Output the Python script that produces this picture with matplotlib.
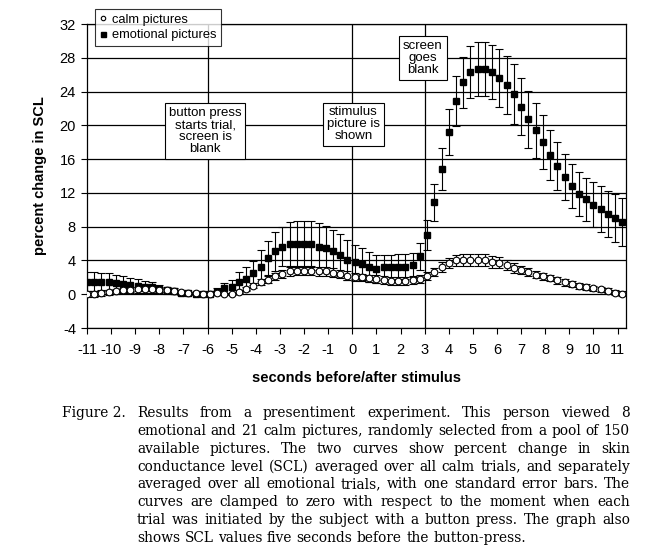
import matplotlib
matplotlib.use("Agg")
import matplotlib.pyplot as plt
from matplotlib.lines import Line2D

# time of each sample (seconds before/after stimulus)
seconds = [-11.0, -10.7, -10.4, -10.1, -9.8, -9.5, -9.2, -8.9, -8.6, -8.3,
           -8.0, -7.7, -7.4, -7.1, -6.8, -6.5, -6.2, -5.9, -5.6, -5.3,
           -5.0, -4.7, -4.4, -4.1, -3.8, -3.5, -3.2, -2.9, -2.6, -2.3,
           -2.0, -1.7, -1.4, -1.1, -0.8, -0.5, -0.2, 0.1, 0.4, 0.7,
           1.0, 1.3, 1.6, 1.9, 2.2, 2.5, 2.8, 3.1, 3.4, 3.7,
           4.0, 4.3, 4.6, 4.9, 5.2, 5.5, 5.8, 6.1, 6.4, 6.7,
           7.0, 7.3, 7.6, 7.9, 8.2, 8.5, 8.8, 9.1, 9.4, 9.7,
           10.0, 10.3, 10.6, 10.9, 11.2]

# percent change in SCL, calm trials
calm = [0.0, 0.05, 0.1, 0.25, 0.35, 0.45, 0.55, 0.6, 0.6, 0.6,
        0.5, 0.45, 0.4, 0.3, 0.2, 0.1, 0.05, 0.0, 0.1, 0.0,
        0.0, 0.3, 0.6, 1.0, 1.4, 1.7, 2.1, 2.4, 2.7, 2.77,
        2.77, 2.77, 2.7, 2.7, 2.57, 2.4, 2.2, 2.05, 2.0, 1.88,
        1.8, 1.68, 1.6, 1.6, 1.6, 1.68, 1.8, 2.15, 2.62, 3.22,
        3.7, 4.05, 4.1, 4.1, 4.1, 4.04, 3.84, 3.7, 3.44, 3.1,
        2.84, 2.64, 2.32, 2.12, 1.92, 1.64, 1.4, 1.2, 1.0, 0.84,
        0.72, 0.6, 0.44, 0.2, 0.05]
calm_se = [0.35, 0.35, 0.3, 0.3, 0.3, 0.25, 0.25, 0.25, 0.2, 0.2,
           0.2, 0.15, 0.15, 0.1, 0.1, 0.05, 0.05, 0.05, 0.1, 0.1,
           0.15, 0.2, 0.25, 0.3, 0.35, 0.4, 0.45, 0.5, 0.55, 0.55,
           0.55, 0.55, 0.55, 0.55, 0.55, 0.5, 0.5, 0.45, 0.45, 0.45,
           0.45, 0.45, 0.45, 0.45, 0.45, 0.45, 0.45, 0.45, 0.5, 0.55,
           0.6, 0.65, 0.7, 0.7, 0.7, 0.7, 0.7, 0.65, 0.6, 0.55,
           0.5, 0.5, 0.45, 0.45, 0.4, 0.4, 0.4, 0.35, 0.35, 0.35,
           0.3, 0.3, 0.3, 0.3, 0.3]

# percent change in SCL, emotional trials
emotional = [1.5, 1.5, 1.5, 1.5, 1.35, 1.2, 1.05, 0.95, 0.85, 0.8,
             0.6, 0.45, 0.35, 0.2, 0.12, 0.05, 0.0, 0.05, 0.3, 0.7,
             0.9, 1.42, 1.86, 2.49, 3.28, 4.27, 5.06, 5.65, 5.93, 5.97,
             5.97, 5.93, 5.65, 5.45, 5.06, 4.66, 4.07, 3.78, 3.6, 3.2,
             3.0, 3.2, 3.2, 3.28, 3.28, 3.48, 4.48, 7.0, 10.9, 14.8,
             19.2, 22.9, 25.1, 26.3, 26.7, 26.7, 26.3, 25.6, 24.8, 23.7,
             22.2, 20.7, 19.4, 18.0, 16.5, 15.2, 13.9, 12.8, 11.9, 11.25,
             10.6, 10.1, 9.5, 9.0, 8.6]
emotional_se = [1.1, 1.1, 1.05, 1.0, 0.95, 0.9, 0.85, 0.8, 0.7, 0.6,
                0.5, 0.45, 0.35, 0.25, 0.2, 0.1, 0.05, 0.1, 0.4, 0.65,
                0.8, 1.2, 1.4, 1.4, 1.9, 2.0, 2.3, 2.35, 2.6, 2.75,
                2.75, 2.7, 2.75, 2.65, 2.55, 2.5, 2.35, 2.0, 1.9, 1.8,
                1.7, 1.5, 1.5, 1.45, 1.45, 1.4, 1.6, 1.8, 2.2, 2.5,
                2.75, 3.0, 3.05, 3.1, 3.2, 3.2, 3.2, 3.4, 3.4, 3.6,
                3.4, 3.35, 3.3, 3.2, 3.0, 2.8, 2.7, 2.6, 2.6, 2.55,
                2.65, 2.7, 2.75, 2.85, 2.85]

y_ticks = [-4, 0, 4, 8, 12, 16, 20, 24, 28, 32]
x_ticks = list(range(-11, 12))
event_times = [-6, 0, 3]
event_labels = ["button press\nstarts trial,\nscreen is\nblank",
                "stimulus\npicture is\nshown",
                "screen\ngoes\nblank"]
event_label_pos = [(-6.1, 19.3), (0.05, 20.1), (2.92, 27.95)]

caption_lines = [
    "Results from a presentiment experiment.  This person viewed 8",
    "emotional and 21 calm pictures, randomly selected from a pool of 150",
    "available pictures.  The two curves show percent change in skin",
    "conductance level (SCL) averaged over all calm trials, and separately",
    "averaged over all emotional trials, with one standard error bars.  The",
    "curves are clamped to zero with respect to the moment when each",
    "trial was initiated by the subject with a button press.  The graph also",
    "shows SCL values five seconds before the button-press.",
]

plt.rcParams["font.family"] = ["Liberation Sans", "DejaVu Sans"]
plt.rcParams["axes.unicode_minus"] = False

W, H = 661, 552
fig = plt.figure(figsize=(W / 100, H / 100), dpi=100)
ax = fig.add_axes([87 / W, 1 - 328 / H, (626 - 87) / W, (328 - 24) / H])

# emotional first so the calm circles sit on top
ax.errorbar(seconds, emotional, yerr=emotional_se, fmt="s", color="black",
            ms=4.2, elinewidth=0.8, capsize=3, capthick=0.8, zorder=4)
ax.errorbar(seconds, calm, yerr=calm_se, fmt="o", color="black", mfc="white",
            mec="black", mew=0.8, ms=4.8, elinewidth=0.8, capsize=3,
            capthick=0.8, zorder=5)

ax.set_xlim(-11, 11.35)
ax.set_ylim(-4, 32)
ax.set_yticks(y_ticks)
ax.set_xticks(x_ticks)
ax.tick_params(axis="both", direction="out", length=4, width=0.8,
               labelsize=10.5, pad=4)
ax.tick_params(axis="x", pad=7)
ax.grid(axis="y", color="black", linewidth=0.9, zorder=1)
ax.set_axisbelow(True)
for t in event_times:
    ax.axvline(t, color="black", linewidth=0.9, zorder=1)
for s in ax.spines.values():
    s.set_linewidth(0.9)

for lab, (lx, ly) in zip(event_labels, event_label_pos):
    ax.text(lx, ly, lab, ha="center", va="center", fontsize=9.5,
            linespacing=1.0, zorder=6,
            bbox=dict(boxstyle="square,pad=0.3", fc="white", ec="black", lw=0.8))

ax.set_ylabel("percent change in SCL", fontsize=10.5, fontweight="bold", labelpad=9)
ax.set_xlabel("seconds before/after stimulus", fontsize=10.5, fontweight="bold", labelpad=10)

handles = [Line2D([], [], ls="none", marker="o", ms=3.2, mfc="white", mec="black", mew=0.8),
           Line2D([], [], ls="none", marker="s", ms=3.6, color="black")]
leg = ax.legend(handles, ["calm pictures", "emotional pictures"], loc="upper left",
                bbox_to_anchor=(95 / W, 1 - 9 / H), bbox_transform=fig.transFigure,
                fontsize=9.3, frameon=True, fancybox=False, handlelength=0.6,
                handletextpad=0.35, borderpad=0.35, labelspacing=0.3,
                borderaxespad=0)
leg.get_frame().set_edgecolor("black")
leg.get_frame().set_linewidth(0.8)
leg.set_zorder(10)

# caption, justified by hand
cap_font = dict(family="DejaVu Serif", fontsize=9.9, va="center", ha="left")
fig.text(62 / W, 1 - 413 / H, "Figure 2.", **cap_font)
fig.canvas.draw()
renderer = fig.canvas.get_renderer()
probe2 = fig.text(0, 0, "a a", **cap_font)
probe1 = fig.text(0, 0, "aa", **cap_font)
space = probe2.get_window_extent(renderer).width - probe1.get_window_extent(renderer).width
probe2.remove()
probe1.remove()
x0, x1 = 137, 630
for k, line in enumerate(caption_lines):
    y = 1 - (413 + 17.85 * k) / H
    words = line.split()
    texts = [fig.text(0, y, w, **cap_font) for w in words]
    widths = [t.get_window_extent(renderer).width for t in texts]
    last = k == len(caption_lines) - 1
    gap = space if last else max((x1 - x0 - sum(widths)) / (len(words) - 1), 0.6 * space)
    xp = x0
    for t, w in zip(texts, widths):
        t.set_x(xp / W)
        xp += w + gap

fig.savefig("out.png", dpi=100)
